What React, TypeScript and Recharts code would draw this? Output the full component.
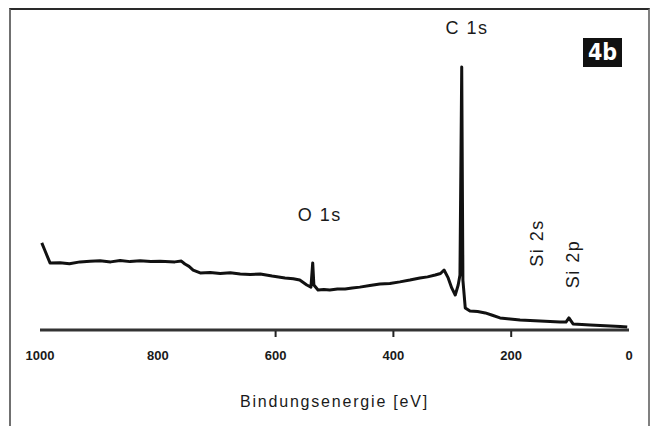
import { Label, Line, LineChart, ReferenceDot, XAxis, YAxis } from "recharts";

// binding energy (eV) and intensity (arb. units, C 1s peak = 100)
const bindingEnergy = [
  997, 992, 983, 966, 950, 932, 915, 898, 880, 864, 847, 830, 812, 796, 771, 760, 754, 747,
  740, 728, 711, 694, 677, 660, 643, 626, 606, 584, 570, 559, 547, 540, 537, 535, 528, 518,
  508, 495, 482, 470, 457, 440, 423, 406, 389, 372, 355, 342, 329, 320, 314, 307, 301, 295,
  290, 287, 284, 282, 278, 270, 257, 244, 232, 219, 202, 185, 168, 151, 134, 117, 107, 102,
  95, 80, 66, 49, 32, 15, 3,
];
const intensity = [
  33.1, 30.4, 25.5, 25.6, 25.2, 25.9, 26.1, 26.3, 25.9, 26.4, 26.0, 26.3, 26.0, 26.1, 25.9, 26.2, 25.1, 24.2,
  22.8, 21.7, 21.9, 21.5, 21.8, 21.3, 21.1, 21.3, 20.5, 19.8, 19.5, 19.0, 17.1, 16.3, 25.5, 17.1, 15.2, 15.4,
  15.2, 15.6, 15.6, 16.0, 16.3, 16.9, 17.5, 17.7, 18.3, 19.0, 19.8, 20.2, 20.9, 21.5, 22.8, 19.8, 16.0, 13.3,
  17.1, 20.9, 100, 19.0, 8.4, 7.2, 7.0, 6.5, 5.6, 4.6, 4.2, 3.8, 3.6, 3.4, 3.2, 3.0, 3.0, 4.6,
  2.3, 2.1, 1.9, 1.7, 1.5, 1.3, 1.1,
];
const xTicks = [0, 200, 400, 600, 800, 1000];
const tickMarks = [200, 400, 600];

const peakLabels = [
  { text: "C 1s", be: 275, y: 114.8, angle: 0 },
  { text: "O 1s", be: 525, y: 43.7, angle: 0 },
  { text: "Si 2s", be: 156, y: 33.1, angle: -90 },
  { text: "Si 2p", be: 95, y: 25.1, angle: -90 },
];

const data = bindingEnergy.map((be, i) => ({ be, counts: intensity[i] }));

const font = "'Liberation Sans', Arial, sans-serif";

function EnergyTick(props: any) {
  const { x, y, payload } = props;
  const axisY = y - 8;
  return (
    <g>
      {tickMarks.includes(payload.value) && (
        <line x1={x} x2={x} y1={axisY + 1} y2={axisY + 7} stroke="#222" strokeWidth={2} />
      )}
      <text x={x} y={y} dy={22} textAnchor="middle" fontSize={13} fontWeight="bold" fill="#1a1a1a">
        {payload.value}
      </text>
    </g>
  );
}

export default function App() {
  return (
    <div
      style={{
        position: "absolute",
        left: 0,
        top: 0,
        width: 651,
        height: 426,
        background: "#fff",
        fontFamily: font,
      }}
    >
      <div
        style={{
          position: "absolute",
          left: 9,
          top: 8,
          width: 637,
          height: 430,
          borderLeft: "2px solid #707070",
          borderTop: "2px solid #2a2a2a",
          borderRight: "2px solid #808080",
        }}
      />
      <div
        style={{
          position: "absolute",
          left: 583,
          top: 38,
          width: 39,
          height: 29,
          background: "#111",
          color: "#fff",
          fontFamily: "'DejaVu Sans Condensed', 'DejaVu Sans', sans-serif",
          fontWeight: "bold",
          fontSize: 23,
          lineHeight: "29px",
          textAlign: "center",
        }}
      >
        4b
      </div>
      <LineChart
        width={651}
        height={426}
        data={data}
        margin={{ top: 67, right: 22, bottom: 16, left: 40 }}
        style={{ position: "absolute", left: 0, top: 0 }}
      >
        <XAxis
          dataKey="be"
          type="number"
          domain={[0, 1000]}
          reversed
          ticks={xTicks}
          interval={0}
          tickLine={false}
          tickSize={6}
          tickMargin={2}
          height={80}
          axisLine={{ stroke: "#333", strokeWidth: 3 }}
          tick={<EnergyTick />}
        >
          <Label
            value="Bindungsenergie [eV]"
            position="insideBottom"
            offset={3}
            fontSize={16}
            letterSpacing={1.8}
            fill="#1a1a1a"
          />
        </XAxis>
        <YAxis hide type="number" domain={[0, 100]} />
        <Line
          type="linear"
          dataKey="counts"
          stroke="#111"
          strokeWidth={3}
          strokeLinejoin="round"
          dot={false}
          isAnimationActive={false}
        />
        {peakLabels.map((p) => (
          <ReferenceDot
            key={p.text}
            x={p.be}
            y={p.y}
            r={0}
            fill="none"
            stroke="none"
            ifOverflow="visible"
            label={{
              value: p.text,
              position: "center",
              angle: p.angle,
              fontSize: 18,
              letterSpacing: 1.5,
              fill: "#1a1a1a",
            }}
          />
        ))}
      </LineChart>
    </div>
  );
}
